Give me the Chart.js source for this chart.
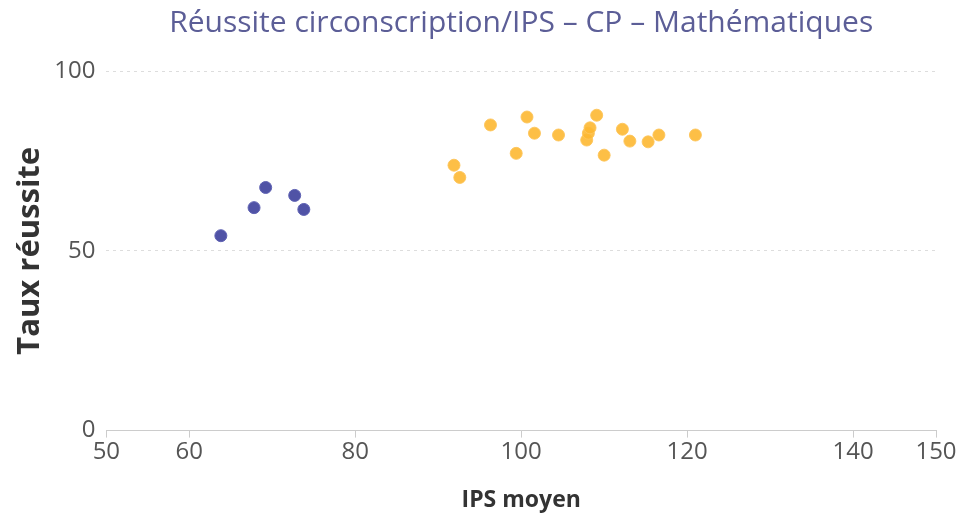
<!DOCTYPE html>
<html>
<head>
<meta charset="utf-8">
<script src="https://cdn.jsdelivr.net/npm/chart.js@4"></script>
<style>
  html, body { margin: 0; padding: 0; background: #fff; }
  #wrap { width: 961px; height: 516px; }
</style>
</head>
<body>
<div id="wrap"><canvas id="chart" width="961" height="516"></canvas></div>
<script>
// ------------ DATA ---------------
const circoIps = [63.8, 67.8, 69.2, 72.7, 73.8];
const circoTaux = [54.2, 62.0, 67.6, 65.4, 61.5];

const ecolesIps = [91.9, 92.6, 96.3, 99.4, 100.7, 101.6, 104.5, 107.9, 108.1, 108.3, 109.1, 110.0, 112.2, 113.1, 115.3, 116.6, 121.0];
const ecolesTaux = [73.8, 70.4, 85.0, 77.1, 87.2, 82.7, 82.2, 80.8, 82.7, 84.2, 87.7, 76.6, 83.8, 80.5, 80.3, 82.2, 82.2];

const xTicks = [50, 60, 80, 100, 120, 140, 150];
const yTicks = [0, 50, 100];

const toPoints = (xs, ys) => xs.map((x, i) => ({ x: x, y: ys[i] }));

const tickFont = { family: 'Open Sans', size: 24 };

new Chart(document.getElementById('chart'), {
  type: 'scatter',
  data: {
    datasets: [
      {
        label: 'Circonscription',
        data: toPoints(circoIps, circoTaux),
        backgroundColor: '#5053a6',
        borderColor: '#5f62b3',
        borderWidth: 1,
        pointRadius: 6
      },
      {
        label: 'Écoles',
        data: toPoints(ecolesIps, ecolesTaux),
        backgroundColor: 'rgba(253, 184, 50, 0.9)',
        borderColor: 'rgba(253, 196, 90, 0.9)',
        borderWidth: 1,
        pointRadius: 6
      }
    ]
  },
  options: {
    responsive: false,
    animation: false,
    layout: { padding: { left: 8, right: 25, top: 0, bottom: 2 } },
    plugins: {
      legend: { display: false },
      tooltip: { enabled: false },
      title: {
        display: true,
        fullSize: false,
        text: 'Réussite circonscription/IPS – CP – Mathématiques',
        color: '#5c5e97',
        font: { family: 'Open Sans', size: 30, weight: 'normal' },
        padding: { top: 5, bottom: 30 }
      }
    },
    scales: {
      x: {
        type: 'linear',
        min: 50,
        max: 150,
        afterBuildTicks: axis => { axis.ticks = xTicks.map(v => ({ value: v })); },
        ticks: { color: '#555', font: tickFont, padding: 0, maxRotation: 0 },
        grid: { drawOnChartArea: false, drawTicks: true, tickLength: 7, color: '#ccc' },
        border: { color: '#ccc', width: 1 },
        title: { display: true, text: 'IPS moyen', color: '#333', font: { family: 'Open Sans', size: 23, weight: 'bold' }, padding: { top: 20, bottom: 0 } }
      },
      y: {
        min: 0,
        max: 100,
        afterBuildTicks: axis => { axis.ticks = yTicks.map(v => ({ value: v })); },
        ticks: { color: '#555', font: tickFont, padding: 11 },
        grid: { color: '#ddd', drawTicks: false },
        border: { display: false, dash: [3, 4] },
        title: { display: true, text: 'Taux réussite', color: '#333', font: { family: 'Open Sans', size: 31, weight: 'bold' }, padding: { top: 4, bottom: -6 } }
      }
    }
  }
});
</script>
</body>
</html>
